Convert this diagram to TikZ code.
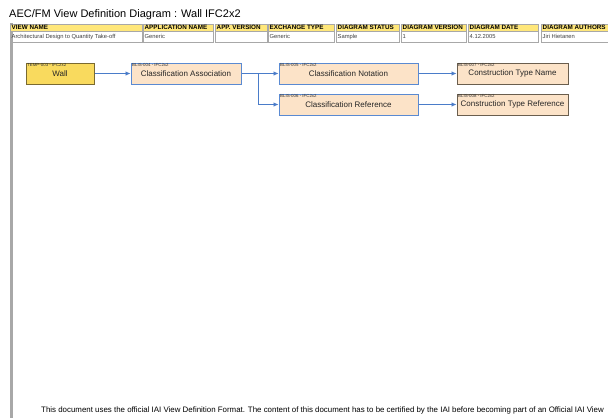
\documentclass[tikz,border=0pt]{standalone}
\usepackage{fontspec}
\setmainfont{Liberation Sans}
\usetikzlibrary{arrows.meta,shadows}
\definecolor{hdryellow}{HTML}{FFE77A}
\definecolor{wallyellow}{HTML}{F9DA5E}
\definecolor{peach}{HTML}{FCE3C8}
\definecolor{bborder}{HTML}{5A8AD2}
\definecolor{dborder}{HTML}{6A5E4E}
\definecolor{wborder}{HTML}{7A6A30}
\definecolor{linkblue}{HTML}{4A7CC9}
\definecolor{tgray}{HTML}{A8A8A8}
\tikzset{
  box/.style={draw, line width=1pt, minimum height=21pt, inner sep=0pt, font=\fontsize{8}{9}\selectfont, text=black!85},
  bluebox/.style={box, draw=bborder, fill=peach},
  darkbox/.style={box, draw=dborder, fill=peach, drop shadow={shadow xshift=1pt, shadow yshift=-1pt, opacity=0.6}},
  wallbox/.style={box, draw=wborder, fill=wallyellow, drop shadow={shadow xshift=1pt, shadow yshift=-1pt, opacity=0.6}},
  idtext/.style={anchor=north west, inner sep=0pt, font=\fontsize{4.4}{5}\selectfont, text=black!80},
  link/.style={draw=linkblue, line width=0.8pt, -{Latex[length=5pt,width=4.5pt]}},
  hdr/.style={anchor=west, inner sep=0pt, font=\bfseries\fontsize{6.3}{6.8}\selectfont},
  val/.style={anchor=west, inner sep=0pt, font=\fontsize{5.8}{6.4}\selectfont, text=black!75},
}
\begin{document}
\begin{tikzpicture}[x=1pt,y=-1pt]
\useasboundingbox[fill=white] (0,0) rectangle (608,418);
% left gray rule
\fill[tgray] (10,23) rectangle (12.5,418);
% title
\node[anchor=base west, inner sep=0pt, font=\fontsize{11}{13}\selectfont] (title) at (9,17) {AEC/FM View Definition Diagram : Wall IFC2x2};
% header table
\foreach \i/\xa/\xb/\h/\v in {
  1/10/142/VIEW NAME/Architectural Design to Quantity Take-off,
  2/143/213/APPLICATION NAME/Generic,
  3/215/267/APP. VERSION/{},
  4/268/334/EXCHANGE TYPE/Generic,
  5/336/399/DIAGRAM STATUS/Sample,
  6/401/466/DIAGRAM VERSION/1,
  7/468/538/DIAGRAM DATE/4.12.2005,
  8/541/612/DIAGRAM AUTHORS/Jiri Hietanen}{
  \fill[hdryellow] (\xa,24) rectangle (\xb,31);
  \draw[tgray, line width=0.8pt] (\xa,24) rectangle (\xb,42);
  \draw[tgray, line width=0.5pt] (\xa,31.5) -- (\xb,31.5);
  \node[hdr] (h\i) at (\xa+1.5,27.8) {\h};
  \node[val] (v\i) at (\xa+1.5,36.8) {\v};
}
% nodes
\node[wallbox, minimum width=68pt] (wall) at (60,73.5) {\raisebox{-2.5pt}{Wall}};
\node[bluebox, minimum width=110pt] (ca) at (186,73.5) {\raisebox{-2.5pt}{Classification Association}};
\node[bluebox, minimum width=139pt] (cn) at (348.5,73.5) {\raisebox{-2.5pt}{Classification Notation}};
\node[bluebox, minimum width=139pt] (cr) at (348.5,104.5) {\raisebox{-2.5pt}{Classification Reference}};
\node[darkbox, minimum width=111pt] (ctn) at (512.5,73.5) {\raisebox{-2.5pt}{Construction Type Name}};
\node[darkbox, minimum width=111pt] (ctr) at (512.5,104.5) {\raisebox{-2.5pt}{Construction Type Reference}};
% ids
\node[idtext] (wallid) at ([shift={(1.5pt,-1.2pt)}]wall.north west) {TEMP-003 - IFC2x2};
\node[idtext] (caid) at ([shift={(1.5pt,-1.2pt)}]ca.north west) {BLIS-004 - IFC2x2};
\node[idtext] (cnid) at ([shift={(1.5pt,-1.2pt)}]cn.north west) {BLIS-005 - IFC2x2};
\node[idtext] (crid) at ([shift={(1.5pt,-1.2pt)}]cr.north west) {BLIS-006 - IFC2x2};
\node[idtext] (ctnid) at ([shift={(1.5pt,-1.2pt)}]ctn.north west) {BLIS-007 - IFC2x2};
\node[idtext] (ctrid) at ([shift={(1.5pt,-1.2pt)}]ctr.north west) {BLIS-008 - IFC2x2};
% connectors
\coordinate (br) at (258,73.5);
\draw[link] (wall.east) -- (ca.west);
\draw[link] (ca.east) -- (cn.west);
\draw[link] (ca.east) -- (br) |- (cr.west);
\draw[link] (cn.east) -- (ctn.west);
\draw[link] (cr.east) -- (ctr.west);
% footer
\node[anchor=base west, inner sep=0pt, font=\fontsize{7.9}{9}\selectfont] (foot) at (41,412) {This document uses the official IAI View Definition Format. The content of this document has to be certified by the IAI before becoming part of an Official IAI View};
\end{tikzpicture}
\end{document}
